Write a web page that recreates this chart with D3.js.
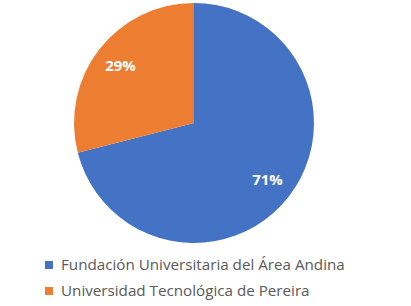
<!DOCTYPE html>
<html>
<head>
<meta charset="utf-8">
<script src="https://cdn.jsdelivr.net/npm/d3@7"></script>
<style>
  body { margin: 0; background: #fff; }
</style>
</head>
<body>
<div class="pie_chart"></div>
<script>
const categories = ['Fundación Universitaria del Área Andina', 'Universidad Tecnológica de Pereira'];
const values = [71, 29];
const colors = ['#4472C4', '#ED7D31'];

const width = 411;
const height = 306;
const cx = 194, cy = 123, radius = 120;

const svg = d3.select('.pie_chart')
    .append('svg')
    .attr('width', width)
    .attr('height', height);

const pie = d3.pie().sort(null).value(d => d.value);
const data = pie(categories.map((c, i) => ({ name: c, value: values[i], color: colors[i] })));

const arc = d3.arc().innerRadius(0).outerRadius(radius);
const labelArc = d3.arc().innerRadius(93).outerRadius(93);

const g = svg.append('g').attr('transform', `translate(${cx},${cy})`);

g.selectAll('path')
    .data(data)
    .enter()
    .append('path')
    .attr('d', arc)
    .attr('fill', d => d.data.color);

g.selectAll('.label')
    .data(data)
    .enter()
    .append('text')
    .attr('class', 'label')
    .attr('transform', d => `translate(${labelArc.centroid(d)})`)
    .attr('text-anchor', 'middle')
    .attr('dy', '0.35em')
    .attr('fill', '#fff')
    .style('font-family', 'Open Sans, sans-serif')
    .style('font-weight', 'bold')
    .style('font-size', '15px')
    .text(d => `${d.data.value}%`);

// legend
const legend = svg.selectAll('.legend')
    .data(categories)
    .enter()
    .append('g')
    .attr('class', 'legend')
    .attr('transform', (d, i) => `translate(45,${265 + i * 26})`);

legend.append('rect')
    .attr('x', 0)
    .attr('y', -4)
    .attr('width', 8)
    .attr('height', 8)
    .attr('fill', (d, i) => colors[i]);

legend.append('text')
    .attr('x', 16)
    .attr('dy', '0.35em')
    .attr('fill', '#595959')
    .style('font-family', 'Open Sans, sans-serif')
    .style('font-size', '15.2px')
    .text(d => d);
</script>
</body>
</html>
